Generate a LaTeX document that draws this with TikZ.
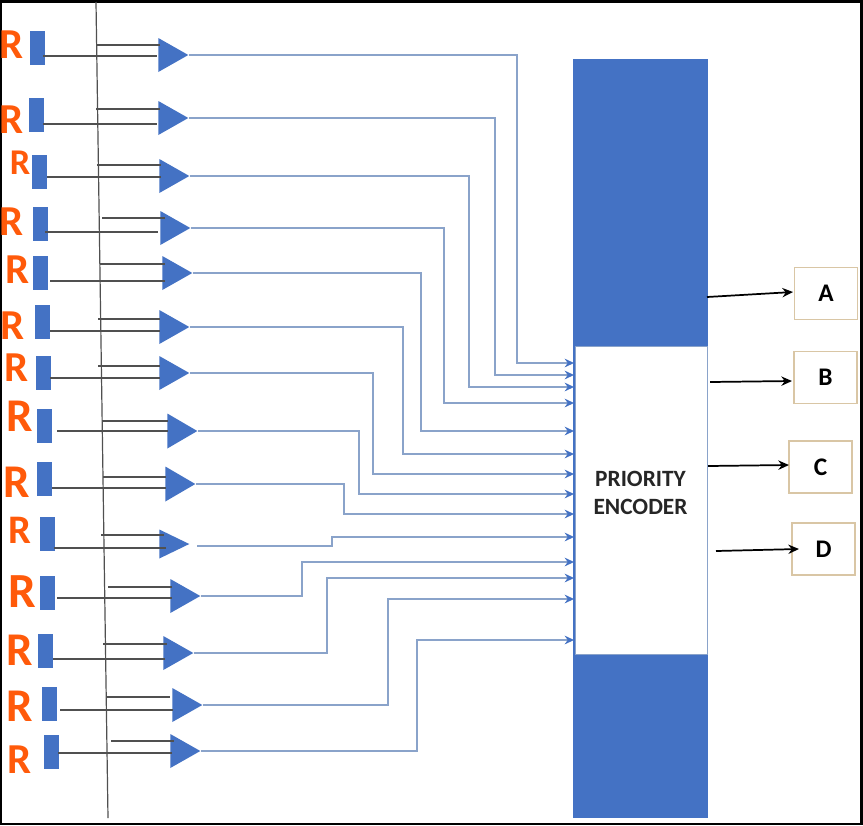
\documentclass[tikz,border=0pt]{standalone}
\usepackage{fontspec}
\setmainfont{Carlito}
\usetikzlibrary{shapes.geometric,arrows.meta}
\definecolor{pptblue}{HTML}{4472C4}
\definecolor{wire}{HTML}{8AA3CA}
\definecolor{boxtan}{HTML}{D9C6A5}
\definecolor{pen}{HTML}{FF5A0A}
\definecolor{bus}{HTML}{505050}
\begin{document}
\begin{tikzpicture}[
    x=.75pt,y=-.75pt,
    box/.style={draw=none,fill=pptblue,minimum width=15*.75pt,minimum height=34*.75pt,inner sep=0pt},
    tri/.style={isosceles triangle,isosceles triangle stretches,draw=none,fill=pptblue,
      inner sep=0pt,anchor=apex,minimum width=#1*.75pt,minimum height=30*.75pt},
    rmark/.style={text=pen,font=\fontsize{32}{32}\selectfont\bfseries,inner sep=0pt},
    busline/.style={draw=bus,line width=.9pt},
    wireline/.style={draw=wire,line width=1pt,-{Stealth[length=7pt,width=6.5pt,color=pptblue]}},
    outline/.style={draw=black,line width=1.3pt,-{Stealth[length=8pt,width=7pt]}},
    letter/.style={draw=boxtan,line width=.9pt,fill=white,minimum width=63*.75pt,minimum height=52*.75pt,
      inner sep=0pt,font=\fontsize{19}{19}\selectfont\bfseries}
  ]
  \useasboundingbox (0,0) rectangle (863,825);
  \fill[black] (0,0) rectangle (863,825);
  \fill[white] (1.5,2.5) rectangle (860,823);

  % encoder
  \node[draw=none,fill=pptblue,minimum width=135*.75pt,minimum height=759*.75pt,inner sep=0pt] (enc) at (640.5,438.5) {};
  \node[draw=wire,line width=.6pt,fill=white,minimum width=132*.75pt,minimum height=308*.75pt,inner sep=0pt] (encw) at (641,500) {};
  \node[align=center,inner sep=0pt,font=\fontsize{17.5}{21}\selectfont\bfseries,text=black!85] (enct) at (640.5,493)
    {PRIORITY\\ENCODER};

  % bus
  \coordinate (bt) at (96,2);
  \coordinate (bb) at (108,818);
  \draw[busline] (bt) -- (bb);

  % row: n / R x,y,scale / box x,y / upper x0,x1,y / lower x0,x1,y / tip x,y / size / trunk x / input y
  \foreach \i/\rx/\ry/\rs/\bx/\by/\ua/\ub/\uy/\la/\lb/\ly/\tx/\ty/\ts/\tr/\iy in {
    1/12/45/1/37.5/48/97/160/45/43/157/56/189/55/34/517/363,
    2/12/120/1/36/115/96/160/109/43/157/124/189/118/34/495/375,
    3/20/163/.85/39.5/172/97/161/165/47/161/177/190/176/34/469/387,
    4/12/222/1/40.5/224/102/165/218/45/158/232/191/228/34/444/403,
    5/18/270/1/40.5/273/100/165/264/50/165/281/193/273/34/421/431,
    6/13/326/1/42/322/98/160/319/50/160/331/190/327/34/403/454,
    7/17/368/1/43.5/373/98/160/366/50/160/378/190/373/34/373/474,
    8/20/416/1.1/44.5/426/103/168/421/57/168/431/198/431/35/359/494,
    9/17/482/1.1/44.5/479/103/166/477/52/166/488/196/484/35/344/514,
    10/20/530/.95/47/534/101/164/535/54/166/548/190/544/29/332/537,
    11/22/592/1.15/47/593/108/172/587/57/172/598/201/596/34/302/562,
    12/20/650/1.1/45.5/651/103/167/644/53/165/659/194/653/34/327/578,
    13/20/706/1.1/49.5/704/107/170/697/60/173/710/203/705/34/388/599,
    14/20/760/1/51.5/752/111/174/741/58/172/753/201/751/34/417/640}
  {
    \node[rmark,scale=\rs] (r\i) at (\rx,\ry) {R};
    \node[box] (b\i) at (\bx,\by) {};
    \node[tri=\ts] (t\i) at (\tx,\ty) {};
    \coordinate (ua\i) at (\ua,\uy);
    \coordinate (ub\i) at (\ub,\uy);
    \coordinate (la\i) at (\la,\ly);
    \coordinate (lb\i) at (\lb,\ly);
    \coordinate (in\i) at (574,\iy);
    \draw[busline] (ua\i) -- (ub\i);
    \draw[busline] (la\i) -- (lb\i);
    \ifnum\i=10
      \coordinate (s\i) at (197,546);
    \else
      \coordinate (s\i) at (t\i.apex);
    \fi
    \draw[wireline] (s\i) -| (\tr,\iy) -- (in\i);
  }

  % outputs
  \node[letter] (a) at (826,293.5) {A};
  \node[letter] (b) at (825.5,377.5) {B};
  \node[letter] (c) at (820.5,467) {C};
  \node[letter] (d) at (823.5,549) {D};
  \coordinate (oa) at (707,297);
  \coordinate (ob) at (710,382);
  \coordinate (oc) at (708,466);
  \coordinate (od) at (716,551);
  \coordinate (ea) at (793,292);
  \coordinate (eb) at (792,381);
  \coordinate (ec) at (789,465);
  \coordinate (ed) at (799,549);
  \draw[outline] (oa) -- (ea);
  \draw[outline] (ob) -- (eb);
  \draw[outline] (oc) -- (ec);
  \draw[outline] (od) -- (ed);
\end{tikzpicture}
\end{document}
